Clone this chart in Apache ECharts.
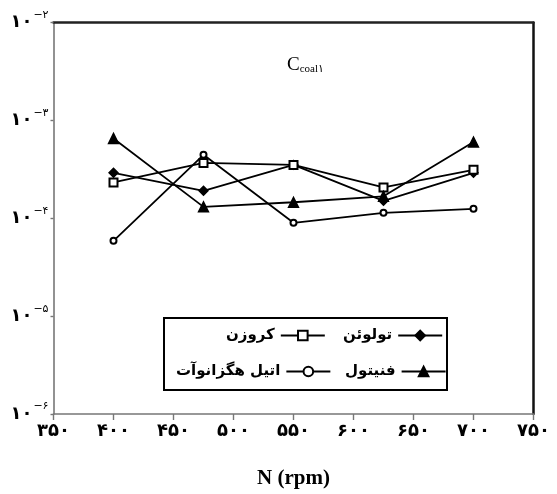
<!DOCTYPE html>
<html>
<head>
<meta charset="utf-8">
<script src="https://cdn.jsdelivr.net/npm/echarts@6/dist/echarts.min.js"></script>
<style>
  html, body { margin: 0; padding: 0; background: #fff; }
  #chart { width: 557px; height: 494px; }
</style>
</head>
<body>
<div id="chart"></div>
<script>
// rpm values
const rpm = [400, 475, 550, 625, 700];

// C_coal1 per solvent (log scale)
const toluene = [2.92e-4, 1.91e-4, 3.52e-4, 1.51e-4, 2.92e-4];
const kerosene = [2.33e-4, 3.69e-4, 3.52e-4, 2.07e-4, 3.13e-4];
const phenol = [6.56e-4, 1.31e-4, 1.46e-4, 1.68e-4, 6.04e-4];
const ethylHexanoate = [5.89e-5, 4.46e-4, 9.0e-5, 1.14e-4, 1.25e-4];

const names = ["تولوئن", "کروزن", "فنیتول", "اتیل هگزانوآت"];

const faDigits = "۰۱۲۳۴۵۶۷۸۹";
function toFa(n) {
  return String(n).replace(/[0-9]/g, (d) => faDigits[+d]);
}

const pts = (arr) => rpm.map((x, i) => [x, arr[i]]);

const chart = echarts.init(document.getElementById("chart"));

const faFont = "DejaVu Sans";

function lineSeries(name, data, symbol, size) {
  return {
    name: name,
    type: "line",
    data: pts(data),
    symbol: symbol,
    symbolSize: size,
    lineStyle: { color: "#000", width: 1.8 },
    itemStyle: { color: "#000", borderColor: "#000", borderWidth: 1.4 },
    emphasis: { disabled: true },
    animation: false,
  };
}

function legendAt(name, left, top) {
  return {
    data: [name],
    left: left,
    top: top,
    align: "right",
    itemWidth: 44,
    itemHeight: 12,
    itemGap: 4,
    padding: 0,
    selectedMode: false,
    textStyle: { fontFamily: faFont, fontWeight: "bold", fontSize: 15, color: "#000", padding: [0, 1, 0, 0] },
  };
}

const option = {
  backgroundColor: "#fff",
  animation: false,
  title: {
    text: "{c|C}{s|coal" + toFa(1) + "}",
    left: 282,
    top: 50,
    textStyle: {
      rich: {
        c: { fontFamily: "Liberation Serif", fontSize: 19, fontWeight: "normal", color: "#000" },
        s: { fontFamily: "Liberation Serif", fontSize: 11, fontWeight: "normal", color: "#000", padding: [9, 0, 0, 0] },
      },
    },
  },
  legend: [
    legendAt(names[0], 343, 328),
    legendAt(names[1], 226, 328),
    legendAt(names[2], 345, 364),
    legendAt(names[3], 176, 364),
  ],
  grid: { left: 53.5, right: 23.5, top: 22.7, bottom: 79.7 },
  xAxis: [
    {
      type: "value",
      min: 350,
      max: 750,
      interval: 50,
      name: "N (rpm)",
      nameLocation: "middle",
      nameGap: 54,
      nameTextStyle: { fontFamily: "Liberation Serif", fontWeight: "bold", fontSize: 21, color: "#000" },
      axisLine: { lineStyle: { color: "#777", width: 1.6 } },
      axisTick: { length: 6, lineStyle: { color: "#777", width: 1.4 } },
      splitLine: { show: false },
      axisLabel: {
        margin: 8,
        formatter: (v) => toFa(v),
        fontFamily: faFont,
        fontWeight: "bold",
        fontSize: 18,
        color: "#000",
      },
    },
    {
      type: "value",
      position: "top",
      min: 350,
      max: 750,
      axisLine: { lineStyle: { color: "#222", width: 2.5 } },
      axisTick: { show: false },
      axisLabel: { show: false },
      splitLine: { show: false },
    },
  ],
  yAxis: [
    {
      type: "log",
      logBase: 10,
      min: 1e-6,
      max: 1e-2,
      axisLine: { show: true, lineStyle: { color: "#777", width: 1.6 } },
      axisTick: { show: true, length: 3, lineStyle: { color: "#777", width: 1.4 } },
      splitLine: { show: false },
      axisLabel: {
        margin: 5,
        formatter: (v) => "{b|" + toFa(10) + "}{s|\u2212" + toFa(-Math.round(Math.log10(v))) + "}",
        rich: {
          b: { fontFamily: faFont, fontWeight: "bold", fontSize: 18, color: "#000" },
          s: { fontFamily: faFont, fontSize: 11, color: "#000", padding: [0, 0, 15, 1] },
        },
      },
    },
    {
      type: "log",
      logBase: 10,
      position: "right",
      min: 1e-6,
      max: 1e-2,
      axisLine: { show: true, lineStyle: { color: "#111", width: 2.5 } },
      axisTick: { show: false },
      axisLabel: { show: false },
      splitLine: { show: false },
    },
  ],
  graphic: [
    {
      type: "rect",
      shape: { x: 164, y: 318, width: 283, height: 72 },
      style: { fill: "#fff", stroke: "#000", lineWidth: 2 },
      z: 0,
    },
  ],
  series: [
    lineSeries(names[0], toluene, "diamond", 9),
    lineSeries(names[1], kerosene, "emptyRect", 8),
    lineSeries(names[2], phenol, "triangle", 10),
    lineSeries(names[3], ethylHexanoate, "emptyCircle", 6),
  ],
};

chart.setOption(option);
</script>
</body>
</html>
